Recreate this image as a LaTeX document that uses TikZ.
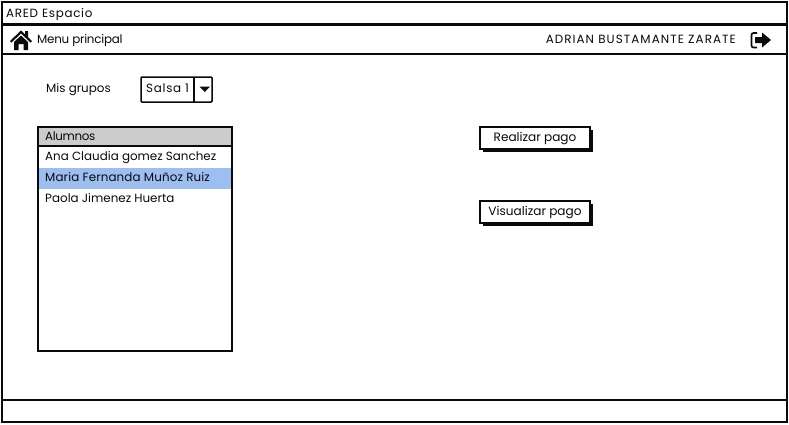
\documentclass[tikz,border=0pt]{standalone}
\usepackage{fontspec}
\setmainfont{Poppins}
\usetikzlibrary{positioning,calc,shadows}
\definecolor{inkblk}{RGB}{10,10,10}
\definecolor{hdrgray}{RGB}{204,204,204}
\definecolor{selblue}{RGB}{157,190,240}
\newcommand{\wider}[1]{\addfontfeature{LetterSpace=#1}}
\tikzset{
  bar/.style={draw=inkblk, line width=1.9pt, fill=white, minimum width=785, minimum height=22, inner sep=0pt},
  txt/.style={font=\fontsize{11.9}{14}\selectfont, text=inkblk, inner sep=0pt, anchor=base west},
  row/.style={fill=#1, minimum width=192, minimum height=21, inner sep=0pt},
  btn/.style={draw=inkblk, line width=1.5pt, fill=white, minimum width=110, minimum height=22, inner sep=0pt,
              text height=9, text depth=3, font=\fontsize{12.1}{14}\selectfont, text=inkblk},
  shd/.style={fill=inkblk, minimum width=110, minimum height=22, inner sep=0pt},
  box/.style={draw=inkblk, line width=1.5pt},
}
\begin{document}
\begin{tikzpicture}[x=1pt,y=-1pt]
  \useasboundingbox (0,0) rectangle (789,424);
  \fill[white] (0,0) rectangle (789,424);
  % window frame and bars
  \node[box, line width=1.9pt, minimum width=785, minimum height=376, inner sep=0pt] (frame) at (394.5,212) {};
  \node[bar] (titlebar) at (394.5,13) {};
  \node[bar, minimum height=29] (menubar) at (394.5,39.5) {};
  \node[bar] (footbar) at (394.5,411) {};
  \node[txt] (apptitle) at (6,17) {\wider{6}ARED Espacio};
  \node[txt] (menulbl) at (37,43.5) {\wider{-2}Menu principal};
  \node[txt, anchor=base east] (username) at (736,43.5) {\wider{9}ADRIAN BUSTAMANTE ZARATE};
  % home icon
  \fill[inkblk] (10,41) -- (21,30.5) -- (25,34.3) -- (25,31) -- (28,31) -- (28,37) -- (32,41) -- (30.5,42.5) -- (21,33.5) -- (11.5,42.5) -- cycle;
  \fill[inkblk] (14,42) -- (21,35.5) -- (28,42) -- (28,50) -- (23.5,50) -- (23.5,44) -- (18.5,44) -- (18.5,50) -- (14,50) -- cycle;
  % exit icon
  \draw[inkblk, line width=1.7pt, rounded corners=2pt] (757,33) -- (751.5,33) -- (751.5,47.5) -- (757,47.5);
  \fill[inkblk] (755,37) -- (762,37) -- (762,32.5) -- (771,40) -- (762,47.5) -- (762,43) -- (755,43) -- cycle;
  % group selector
  \node[txt] (grplbl) at (46,92.5) {Mis grupos};
  \node[box, fill=white, minimum width=71, minimum height=25, inner sep=0pt, rounded corners=1pt] (grpbox) at (176.5,89.5) {};
  \node[txt] (grpval) at (146,92.5) {\wider{6}Salsa 1};
  \draw[box] (194,77) -- (194,102);
  \fill[inkblk] (199.5,86.5) -- (210,86.5) -- (204.8,92) -- cycle;
  % list of students
  \node[row=hdrgray, minimum width=194, minimum height=19] (listhdr) at (135,136.5) {};
  \node[row=selblue] (selrow) at (135,178) {};
  \draw[box] (38,127) rectangle (232,351);
  \draw[box] (38,146) -- (232,146);
  \node[txt] (alumnos) at (45,140.5) {\wider{-3}Alumnos};
  \foreach \yy/\nm/\lbl in {160.5/ana/{Ana Claudia gomez Sanchez},
                            181.5/maria/{\wider{1}Maria Fernanda Muñoz Ruiz},
                            202/paola/{Paola Jimenez Huerta}}{
    \node[txt] (\nm) at (45,\yy) {\lbl};
  }
  % buttons
  \node[shd] (paysh) at (538,141) {};
  \node[btn] (paybtn) at (535,138) {Realizar pago};
  \node[shd] (viewsh) at (538,215) {};
  \node[btn] (viewbtn) at (535,212) {Visualizar pago};
\end{tikzpicture}
\end{document}
